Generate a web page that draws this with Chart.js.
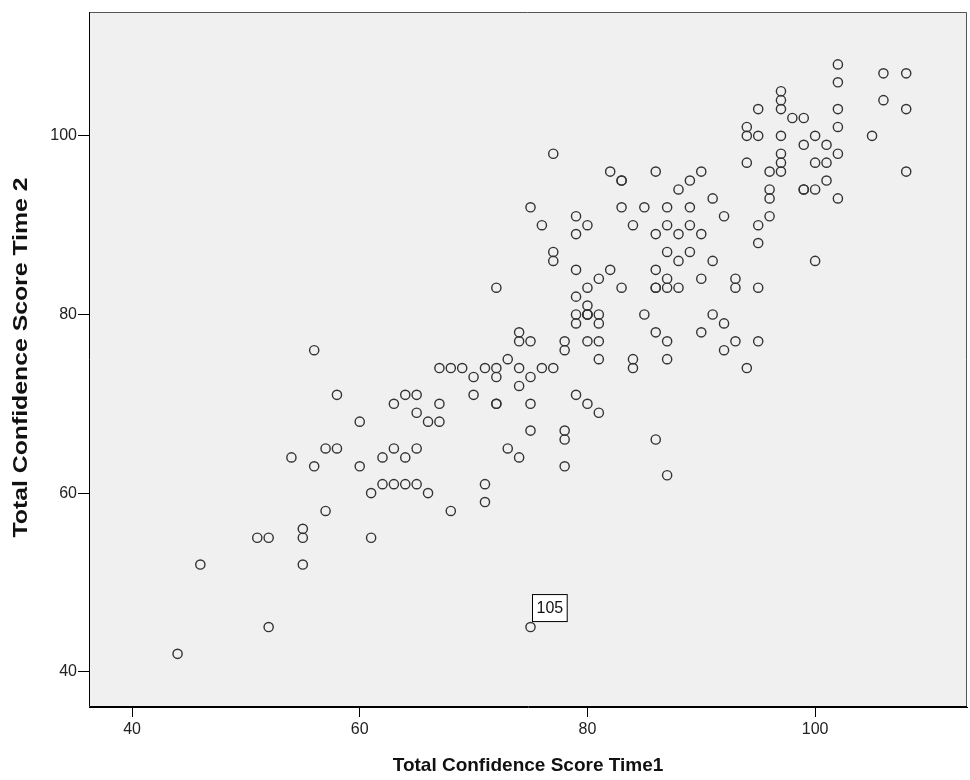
<!DOCTYPE html>
<html>
<head>
<meta charset="utf-8">
<script src="https://cdn.jsdelivr.net/npm/chart.js@4.4.1/dist/chart.umd.min.js"></script>
<style>
  html, body { margin: 0; padding: 0; background: #ffffff; }
  #wrap { width: 970px; height: 780px; }
</style>
</head>
<body>
<div id="wrap"><canvas id="c" width="970" height="780"></canvas></div>
<script>
// Total Confidence Score Time1 (x) and Time 2 (y), one entry per case
const timeOne = [
  44, 46, 51, 52, 52, 55, 55, 55, 56, 56, 57, 57, 58, 58, 54, 60, 60, 61, 61, 62,
  62, 63, 64, 65, 63, 63, 64, 65, 64, 65, 65, 66, 67, 67, 66, 68, 67, 68, 69, 70,
  70, 71, 72, 72, 72, 72, 71, 71, 73, 74, 74, 75, 75, 73, 74, 75, 76, 77, 74, 74,
  75, 78, 78, 78, 78, 78, 75, 72, 79, 80, 79, 80, 80, 81, 79, 81, 80, 81, 81, 79,
  80, 81, 80, 81, 79, 82, 83, 84, 84, 85, 86, 87, 87, 86, 87, 86, 86, 87, 88, 86,
  87, 90, 93, 93, 95, 91, 92, 90, 93, 95, 92, 94, 77, 77, 87, 89, 88, 91, 100, 76,
  79, 79, 80, 84, 86, 87, 88, 89, 90, 95, 95, 75, 83, 85, 87, 89, 92, 96, 91, 88,
  89, 90, 86, 82, 83, 83, 77, 94, 96, 97, 97, 97, 96, 96, 99, 99, 100, 100, 101, 101,
  102, 102, 99, 101, 94, 94, 95, 97, 100, 105, 95, 97, 97, 97, 98, 99, 102, 102, 102, 102,
  106, 106, 108, 108, 108, 80
];
const timeTwo = [
  42, 52, 55, 55, 45, 52, 55, 56, 63, 76, 65, 58, 65, 71, 64, 68, 63, 60, 55, 64,
  61, 61, 61, 61, 65, 70, 71, 71, 64, 65, 69, 68, 68, 70, 60, 58, 74, 74, 74, 73,
  71, 74, 74, 73, 70, 70, 61, 59, 75, 74, 72, 73, 70, 65, 64, 67, 74, 74, 78, 77,
  77, 77, 76, 67, 66, 63, 45, 83, 82, 81, 80, 80, 80, 80, 79, 79, 77, 77, 75, 71,
  70, 69, 83, 84, 85, 85, 83, 75, 74, 80, 78, 77, 75, 66, 62, 83, 83, 83, 83, 85,
  84, 84, 84, 83, 83, 80, 79, 78, 77, 77, 76, 74, 87, 86, 87, 87, 86, 86, 86, 90,
  91, 89, 90, 90, 89, 90, 89, 90, 89, 90, 88, 92, 92, 92, 92, 92, 91, 91, 93, 94,
  95, 96, 96, 96, 95, 95, 98, 97, 96, 96, 97, 98, 94, 93, 94, 94, 94, 97, 97, 95,
  93, 98, 99, 99, 100, 101, 100, 100, 100, 100, 103, 103, 104, 105, 102, 102, 101, 103, 106, 108,
  104, 107, 107, 103, 96, 80
];
// tick values
const xTickValues = [40, 60, 80, 100];
const yTickValues = [40, 60, 80, 100];
// axis titles
const xTitle = 'Total Confidence Score Time1';
const yTitle = 'Total Confidence Score Time 2';
// labelled case
const labelledIndex = [66];
const labelledText = ['105'];

const points = timeOne.map((x, i) => ({ x: x, y: timeTwo[i] }));

const FONT = "'Liberation Sans', Arial, sans-serif";

const frame = {
  id: 'frame',
  beforeDatasetsDraw(chart) {
    const a = chart.chartArea, ctx = chart.ctx;
    ctx.save();
    ctx.fillStyle = '#f0f0f0';
    ctx.fillRect(a.left, a.top, a.right - a.left, a.bottom - a.top);
    ctx.restore();
  },
  afterDraw(chart) {
    const a = chart.chartArea, ctx = chart.ctx;
    ctx.save();
    ctx.strokeStyle = '#555555';
    ctx.lineWidth = 1;
    ctx.beginPath();
    ctx.moveTo(a.left, a.top + 0.5);
    ctx.lineTo(a.right - 0.5, a.top + 0.5);
    ctx.lineTo(a.right - 0.5, a.bottom);
    ctx.stroke();
    ctx.strokeStyle = '#000000';
    ctx.beginPath();
    ctx.moveTo(a.left + 0.5, a.top);
    ctx.lineTo(a.left + 0.5, a.bottom - 0.5);
    ctx.lineTo(a.right, a.bottom - 0.5);
    ctx.stroke();

    // vertical axis title (stretched along its length like the reference)
    ctx.save();
    ctx.font = 'bold 21px ' + FONT;
    ctx.fillStyle = '#111111';
    ctx.textAlign = 'center';
    ctx.textBaseline = 'middle';
    const tw = ctx.measureText(yTitle).width;
    const stretch = 360 / tw;
    ctx.translate(21, (a.top + a.bottom) / 2 - 2);
    ctx.rotate(-Math.PI / 2);
    ctx.scale(stretch, 1);
    ctx.fillText(yTitle, 0, 0);
    ctx.restore();

    // case labels
    const meta = chart.getDatasetMeta(0);
    ctx.font = '16px ' + FONT;
    ctx.textBaseline = 'middle';
    ctx.textAlign = 'center';
    labelledIndex.forEach((idx, k) => {
      const el = meta.data[idx];
      const txt = labelledText[k];
      const w = ctx.measureText(txt).width + 8;
      const h = 27;
      const bx = el.x + 1.5;
      const by = el.y - 6 - h;
      ctx.fillStyle = '#ffffff';
      ctx.fillRect(bx, by, w, h);
      ctx.strokeStyle = '#000000';
      ctx.lineWidth = 1;
      ctx.strokeRect(bx + 0.5, by + 0.5, w, h);
      ctx.fillStyle = '#111111';
      ctx.fillText(txt, bx + w / 2 + 0.5, by + h / 2 + 1);
    });
    ctx.restore();
  }
};

new Chart(document.getElementById('c'), {
  type: 'scatter',
  data: {
    datasets: [{
      data: points,
      pointStyle: 'circle',
      pointRadius: 4.6,
      pointBorderWidth: 1.4,
      borderColor: '#333333',
      backgroundColor: 'rgba(0,0,0,0)',
      pointBackgroundColor: 'rgba(0,0,0,0)',
      pointBorderColor: '#333333'
    }]
  },
  options: {
    responsive: false,
    animation: false,
    layout: { autoPadding: false, padding: { left: 0, top: 12, right: 3, bottom: 0 } },
    plugins: { legend: { display: false }, tooltip: { enabled: false } },
    scales: {
      x: {
        type: 'linear',
        min: 36.22,
        max: 113.34,
        afterBuildTicks(scale) { scale.ticks = xTickValues.map(v => ({ value: v })); },
        afterFit(scale) { scale.height = 73; },
        grid: { display: true, drawOnChartArea: false, drawTicks: true, tickLength: 10, tickColor: '#000000', color: '#000000' },
        border: { display: true, color: '#000000', width: 1 },
        ticks: { color: '#222222', font: { family: FONT, size: 16 }, padding: 3, maxRotation: 0 },
        title: { display: true, text: xTitle, color: '#111111', font: { family: FONT, size: 19, weight: 'bold' }, padding: { top: 0, bottom: 3 } }
      },
      y: {
        type: 'linear',
        min: 36.05,
        max: 113.87,
        afterBuildTicks(scale) { scale.ticks = yTickValues.map(v => ({ value: v })); },
        afterFit(scale) { scale.width = 89; },
        grid: { display: true, drawOnChartArea: false, drawTicks: true, tickLength: 11, tickColor: '#000000', color: '#000000' },
        border: { display: true, color: '#000000', width: 1 },
        ticks: { color: '#222222', font: { family: FONT, size: 16 }, padding: 1 },
        title: { display: false, text: yTitle }
      }
    }
  },
  plugins: [frame]
});
</script>
</body>
</html>
